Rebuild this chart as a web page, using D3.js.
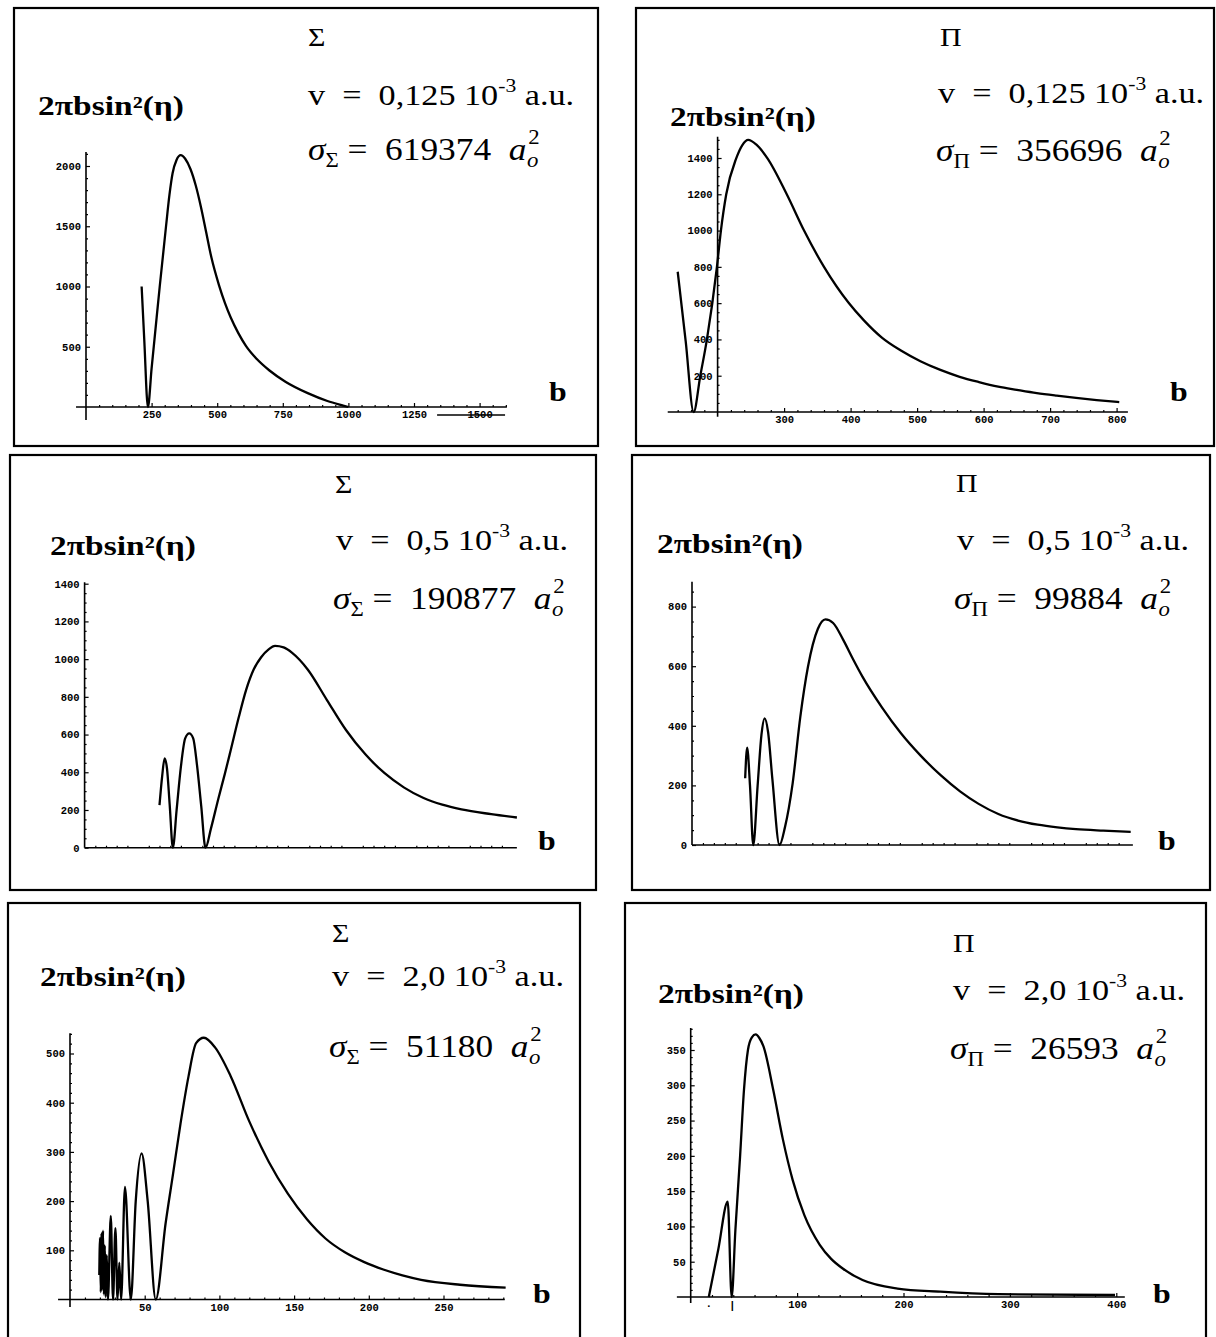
<!DOCTYPE html>
<html><head><meta charset="utf-8">
<script src="https://cdn.jsdelivr.net/npm/d3@7"></script>
<style>
body{margin:0;background:#fff;}
svg{display:block;}
text{white-space:pre;}
</style></head><body>
<svg id="c" width="1216" height="1337"></svg>
<script>
// ---------------- DATA ----------------
// curves: [b, 2πb sin²(η)]
const sigmaCurveV0125 = [[212,1000],[222,560],[236,0],[250,320],[265,650],[281,1000],[305,1500],[318,1760],[330,1940],[345,2050],[361,2090],[378,2060],[398,1975],[418,1840],[438,1660],[458,1450],[478,1240],[507,1010],[530,860],[552,740],[580,615],[610,505],[650,400],[698,305],[760,210],[845,115],[920,50],[980,12],[1000,0]];
const piCurveV0125 = [[140,773],[152,390],[164,0],[174,200],[184,402],[199,800],[205,1000],[213,1200],[228,1398],[237,1470],[246,1500],[258,1475],[275,1398],[304,1200],[330,1000],[360,800],[397,602],[420,505],[447,410],[475,340],[505,280],[535,232],[564,194],[593,165],[622,140],[650,122],[680,104],[710,90],[739,78],[770,66],[804,55]];
const sigmaCurveV05 = [[70,226],[72.5,380],[74.8,474],[77,420],[79.5,230],[82.5,0],[86,200],[90,430],[94,580],[97.8,606],[101.5,580],[105,440],[109,220],[113,0],[118,100],[125,260],[131,390],[136.6,518],[144,690],[150.9,836],[158,945],[165,1010],[172,1052],[178,1070],[186,1062],[194,1033],[208.5,945],[226.5,783],[244.3,624],[262.4,495],[280.4,395],[298.3,320],[316.3,265],[334.3,228],[352.2,203],[380,178],[404,160]];
const piCurveV05 = [[48.6,224],[50.4,327],[53,200],[56,0],[60,200],[63.5,370],[66.4,425],[69.5,380],[73.5,220],[80,0],[85,60],[92,207],[99,430],[106,598],[115,725],[122,757],[129,745],[138,690],[147,625],[155.8,565],[173.6,462],[191,375],[209,300],[227,235],[245,180],[262,138],[280,104],[298,82],[316,68],[334,59],[351,53],[376,48],[401,44]];
const sigmaCurveV20 = [[19.6,50],[20.1,125],[20.6,15],[21.1,135],[21.6,20],[22.1,140],[22.7,10],[23.3,110],[23.9,5],[24.6,90],[25.4,0],[27.3,170],[28.8,0],[30.4,145],[31.8,0],[33.0,75],[34.2,0],[36.8,229],[40.7,0],[44,200],[47.9,297],[52,200],[57.4,0],[64,155],[69,256],[74,358],[79.3,453],[84.4,521],[89.6,532],[97.2,512],[107.4,455],[120,362],[133,280],[145.8,215],[158.6,163],[171,124],[184,96],[197,76],[209.7,61],[222.5,49],[235,40],[261,30],[291.6,24]];
const piCurveV20 = [[17,0],[26,68],[34.8,135],[38.5,0],[42,95],[46.4,199],[50.1,294],[53.8,350],[57.5,368],[61.1,372],[64.5,367],[68.4,355],[77.5,294],[86.7,223],[95.8,166],[106.8,116],[121.3,74],[132,54],[143.2,40],[161.5,24],[194.4,12],[234.5,7.5],[289.3,4],[398.8,2.8]];
const strayLineP1 = [[1338,-66],[1597,-66]];

// tick values / labels
const xTicksP1 = [250,500,750,1000,1250,1500];
const yTicksP1 = [500,1000,1500,2000];
const xTicksP2 = [300,400,500,600,700,800];
const yTicksP2 = [200,400,600,800,1000,1200,1400];
const xTicksP3 = [50,100,150,200,250,300,350,400];
const yTicksP3 = [0,200,400,600,800,1000,1200,1400];
const xTicksP4 = [50,100,150,200,250,300,350,400];
const yTicksP4 = [0,200,400,600,800];
const xTicksP5 = [50,100,150,200,250];
const yTicksP5 = [100,200,300,400,500];
const xTicksP6 = [100,200,300,400];
const yTicksP6 = [50,100,150,200,250,300,350];
const extraLabelsP6 = [[17,"·"],[39,"|"]];

// texts
const stateNames = ["Σ","Π","Σ","Π","Σ","Π"];
const velocities = ["0,125","0,125","0,5","0,5","2,0","2,0"];
const crossSections = ["619374","356696","190877","99884","51180","26593"];
const yAxisTitle = "2πbsin²(η)";
const xAxisTitle = "b";

// ---------------- LAYOUT ----------------
const panels = [
 {curve:sigmaCurveV0125, xt:xTicksP1, yt:yTicksP1, xMinor:50, yMinor:100,
  frame:[14,8,598,446], xDom:[0,1500], xR:[86,479.6], yDom:[0,2000], yR:[407,166],
  origin:[0,0], xExt:[-38,1604], yExt:[-108,2116],
  title:[308,46], vl:[308,105], sl:[308,160], yl:[38,115], bl:[549,401]},
 {curve:piCurveV0125, xt:xTicksP2, yt:yTicksP2, xMinor:20, yMinor:50,
  frame:[636,8,1214,446], xDom:[200,800], xR:[717.6,1116.6], yDom:[0,1400], yR:[412,158],
  origin:[200,0], xExt:[125,817], yExt:[-26,1517],
  title:[940,46], vl:[938,103], sl:[936,161], yl:[670,126], bl:[1170,401]},
 {curve:sigmaCurveV05, xt:xTicksP3, yt:yTicksP3, xMinor:10, yMinor:50,
  frame:[10,455,596,890], xDom:[0,400], xR:[84.6,512.6], yDom:[0,1400], yR:[847.7,583.7],
  origin:[0,0], xExt:[0,404], yExt:[0,1408], clipX:518,
  title:[335,493], vl:[336,550], sl:[333,609], yl:[50,555], bl:[538,850]},
 {curve:piCurveV05, xt:xTicksP4, yt:yTicksP4, xMinor:10, yMinor:50,
  frame:[632,455,1210,890], xDom:[0,400], xR:[692,1129.6], yDom:[0,800], yR:[845,606.6],
  origin:[0,0], xExt:[0,403], yExt:[0,883], clipX:1136,
  title:[956,492], vl:[957,550], sl:[954,609], yl:[657,553], bl:[1158,850]},
 {curve:sigmaCurveV20, xt:xTicksP5, yt:yTicksP5, xMinor:10, yMinor:20,
  frame:[8,903,580,1350], xDom:[0,250], xR:[70,443.5], yDom:[0,500], yR:[1299.5,1053.5],
  origin:[0,0], xExt:[-8,291], yExt:[-15,541],
  title:[332,942], vl:[332,986], sl:[329,1057], yl:[40,986], bl:[533,1303]},
 {curve:piCurveV20, xt:xTicksP6, yt:yTicksP6, xMinor:20, yMinor:10,
  frame:[625,903,1206,1350], xDom:[0,400], xR:[690.7,1116.3], yDom:[0,350], yR:[1297,1050],
  origin:[0,0], xExt:[-13,408], yExt:[-8.5,381], extra:extraLabelsP6,
  title:[953,952], vl:[953,1000], sl:[950,1059], yl:[658,1003], bl:[1153,1303]}
];

const svg = d3.select("#c");
svg.append("rect").attr("width",1216).attr("height",1337).attr("fill","#fff");
const defs = svg.append("defs");
const INK = "#000";
const tickFont = "'Liberation Mono', 'DejaVu Sans Mono', monospace";
const serif = "'Liberation Serif', 'Times New Roman', serif";

function stretched(g, pos, sx) {
  return g.append("g").attr("transform", `translate(${pos[0]},${pos[1]}) scale(${sx},1)`);
}

panels.forEach((p, i) => {
  const g = svg.append("g");
  const f = p.frame;
  g.append("rect").attr("x",f[0]).attr("y",f[1]).attr("width",f[2]-f[0]).attr("height",f[3]-f[1])
    .attr("fill","none").attr("stroke",INK).attr("stroke-width",2.2);

  const x = d3.scaleLinear().domain(p.xDom).range(p.xR);
  const y = d3.scaleLinear().domain(p.yDom).range(p.yR);
  const ox = x(p.origin[0]), oy = y(p.origin[1]);

  // axis lines
  g.append("line").attr("x1",x(p.xExt[0])).attr("x2",x(p.xExt[1])).attr("y1",oy).attr("y2",oy)
    .attr("stroke",INK).attr("stroke-width",1.6);
  g.append("line").attr("x1",ox).attr("x2",ox).attr("y1",y(p.yExt[0])).attr("y2",y(p.yExt[1]))
    .attr("stroke",INK).attr("stroke-width",1.6);

  // minor ticks
  const xm = d3.range(Math.ceil(p.xExt[0]/p.xMinor)*p.xMinor, p.xExt[1], p.xMinor).filter(v=>!p.xt.includes(v) && v!==p.origin[0]);
  const ym = d3.range(Math.ceil(Math.max(p.yExt[0],0)/p.yMinor)*p.yMinor, p.yExt[1], p.yMinor).filter(v=>!p.yt.includes(v) && v!==0);
  const gxm = g.append("g").attr("transform",`translate(0,${oy})`)
    .call(d3.axisBottom(x).tickValues(xm).tickFormat("").tickSizeInner(-2).tickSizeOuter(0));
  gxm.select(".domain").remove();
  const gym = g.append("g").attr("transform",`translate(${ox},0)`)
    .call(d3.axisLeft(y).tickValues(ym).tickFormat("").tickSizeInner(-2).tickSizeOuter(0));
  gym.select(".domain").remove();

  // major ticks
  const gx = g.append("g").attr("transform",`translate(0,${oy})`)
    .call(d3.axisBottom(x).tickValues(p.xt).tickFormat(d3.format("d")).tickSizeInner(-4).tickSizeOuter(0).tickPadding(4));
  gx.select(".domain").remove();
  if (p.clipX) {
    const id = "clip"+i;
    defs.append("clipPath").attr("id",id).append("rect")
      .attr("x",f[0]).attr("y",f[1]).attr("width",p.clipX-f[0]).attr("height",f[3]-f[1]);
    gx.attr("clip-path",`url(#${id})`);
  }
  const gy = g.append("g").attr("transform",`translate(${ox},0)`)
    .call(d3.axisLeft(y).tickValues(p.yt).tickFormat(d3.format("d")).tickSizeInner(-4).tickSizeOuter(0).tickPadding(5));
  gy.select(".domain").remove();
  [gxm,gym,gx,gy].forEach(a=>{
    a.selectAll("line").attr("stroke",INK).attr("stroke-width",1.2);
    a.selectAll("text").attr("fill",INK).attr("font-family",tickFont).attr("font-weight","bold").attr("font-size",10.5);
  });
  if (p.extra) {
    g.selectAll(null).data(p.extra).enter().append("text")
      .attr("x",d=>x(d[0])).attr("y",oy+12).attr("text-anchor","middle")
      .attr("font-family",tickFont).attr("font-weight","bold").attr("font-size",11).attr("fill",INK)
      .text(d=>d[1]);
  }

  // curve
  const line = d3.line().x(d=>x(d[0])).y(d=>y(d[1])).curve(d3.curveMonotoneX);
  g.append("path").datum(p.curve).attr("d",line).attr("fill","none").attr("stroke",INK)
    .attr("stroke-width",2.3).attr("stroke-linejoin","round");
  if (i===0) {
    g.append("path").datum(strayLineP1).attr("d",d3.line().x(d=>x(d[0])).y(d=>y(d[1])))
      .attr("stroke",INK).attr("stroke-width",1.6);
  }

  // texts
  stretched(g, p.title, 1.15).append("text").attr("font-family",serif)
    .attr("font-size",26).attr("fill",INK).text(stateNames[i]);

  const v = stretched(g, p.vl, 1.14).append("text").attr("font-family",serif)
    .attr("font-size",30).attr("fill",INK);
  v.append("tspan").text("v  =  "+velocities[i]+" 10");
  v.append("tspan").attr("dy",-13).attr("font-size",19).text("-3");
  v.append("tspan").attr("dy",13).text(" a.u.");

  const sg = stretched(g, p.sl, 1.14);
  const s = sg.append("text").attr("font-family",serif).attr("font-size",31).attr("fill",INK);
  s.append("tspan").attr("font-style","italic").text("σ");
  s.append("tspan").attr("dy",7).attr("font-size",20).text(stateNames[i]);
  s.append("tspan").attr("dy",-7).text(" =  "+crossSections[i]+"  ");
  s.append("tspan").attr("font-style","italic").text("a");
  const bb = s.node().getBBox();
  const ax = bb.x + bb.width + 0.5;
  sg.append("text").attr("x",ax).attr("y",7).attr("font-family",serif).attr("font-style","italic")
    .attr("font-size",20).attr("fill",INK).text("o");
  sg.append("text").attr("x",ax+1).attr("y",-16).attr("font-family",serif)
    .attr("font-size",20).attr("fill",INK).text("2");

  stretched(g, p.yl, 1.24).append("text").attr("font-family",serif).attr("font-weight","bold")
    .attr("font-size",27).attr("fill",INK).text(yAxisTitle);
  stretched(g, p.bl, 1.18).append("text").attr("font-family",serif).attr("font-weight","bold")
    .attr("font-size",27).attr("fill",INK).text(xAxisTitle);
});
</script>
</body></html>
